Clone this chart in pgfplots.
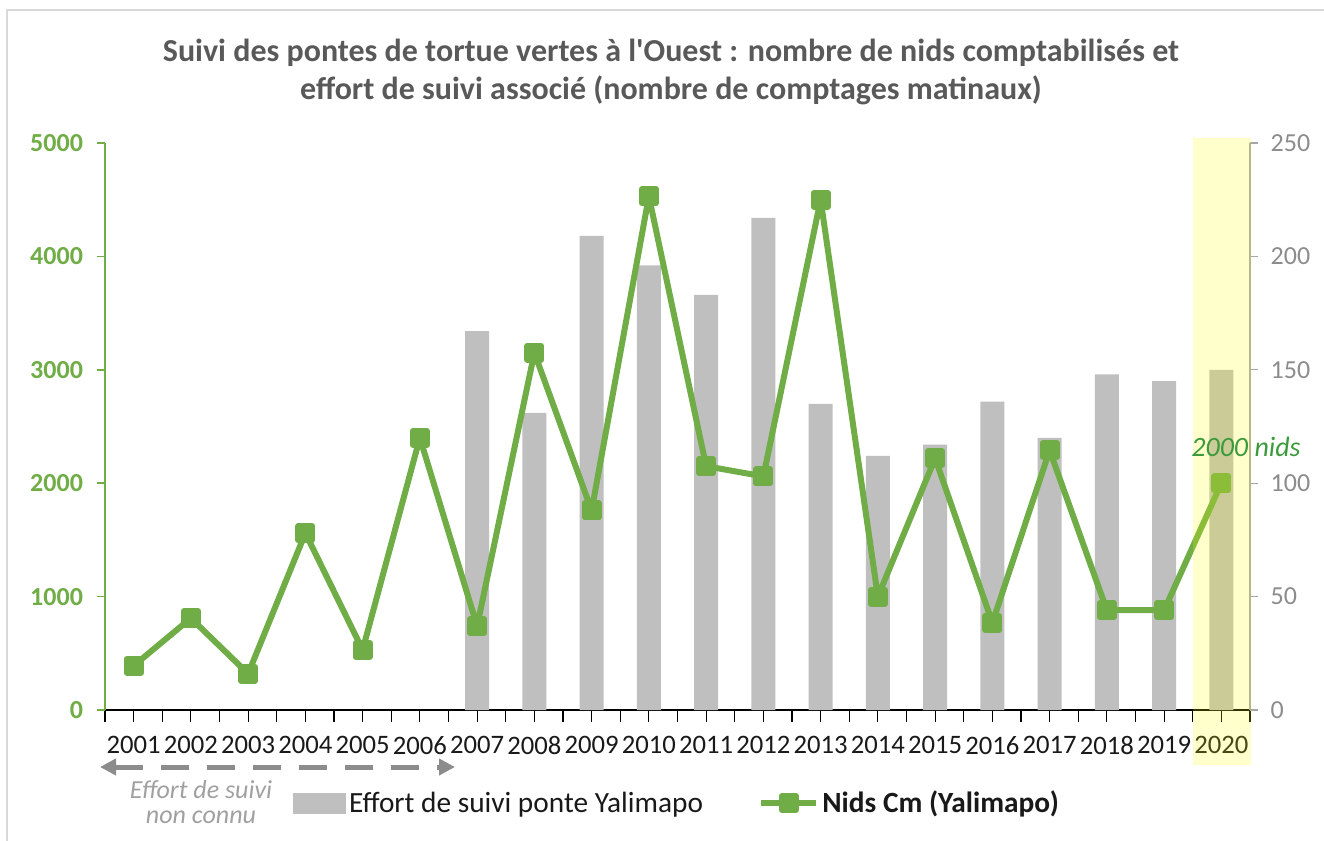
\documentclass[border=0pt]{standalone}
\usepackage{fontspec}
\setmainfont{Carlito}
\usepackage{pgfplots}
\pgfplotsset{compat=1.18}
\usetikzlibrary{arrows.meta}
\definecolor{lgreen}{HTML}{70AD47}
\definecolor{bargrey}{HTML}{BFBFBF}
\definecolor{axgrey}{HTML}{A6A6A6}
\definecolor{lblgrey}{HTML}{8C8C8C}
\definecolor{titlegrey}{HTML}{595959}
\definecolor{arrgrey}{HTML}{8C8C8C}
\definecolor{notegrey}{HTML}{A0A0A0}
\definecolor{dkgreen}{HTML}{3C9A3C}
\definecolor{hlyellow}{HTML}{FFFF00}
\definecolor{framegrey}{HTML}{D9D9D9}
\pgfplotsset{
 barleg/.style={legend image code/.code={\fill[bargrey] (0pt,-7.5pt) rectangle (39pt,7.5pt);}},
 lineleg/.style={legend image code/.code={\draw[lgreen, line width=4.5pt] (0pt,0pt) -- (41pt,0pt);
   \fill[lgreen] (15.3pt,-5.2pt) rectangle (25.7pt,5.2pt);}},
}
\begin{document}
\begin{tikzpicture}
\path[use as bounding box] (0,0) rectangle (993pt,630pt);
\draw[framegrey, line width=1.5pt] (5.25pt,-10pt) -- (5.25pt,622.5pt) -- (1000pt,622.5pt);
\node[align=center, text=titlegrey, font=\fontsize{24}{28.5}\selectfont\bfseries] at (503.25pt,576pt)
 {Suivi des pontes de tortue vertes à l\textquotesingle Ouest : nombre de nids comptabilisés et\\effort de suivi associé (nombre de comptages matinaux)};
% bars (right axis)
\begin{axis}[
 at={(78.75pt,97.5pt)}, anchor=south west,
 scale only axis, width=858.75pt, height=425.25pt,
 xmin=0.5, xmax=20.5, ymin=0, ymax=250,
 axis x line*=bottom, axis y line*=right,
 tick align=outside,
 major tick length=6pt,
 xtick={0.5,1.5,...,20.5}, xticklabels={},
 extra x ticks={1,2,...,20},
 extra x tick labels={2001,2002,2003,2004,2005,2006,2007,2008,2009,2010,2011,2012,2013,2014,2015,2016,2017,2018,2019,2020},
 extra x tick style={major tick length=0pt},
 x axis line style={black, line width=0.9pt, -},
 x tick style={black, line width=0.9pt, /pgfplots/major tick length=9pt},
 xticklabel style={font=\fontsize{20}{21}\selectfont, text=black!90, yshift=-16pt},
 ytick={0,50,...,250},
 y axis line style={axgrey, line width=0.9pt, -},
 y tick style={axgrey, line width=0.9pt},
 yticklabel style={font=\fontsize{19.5}{20}\selectfont, text=lblgrey, xshift=6pt},
 /pgf/number format/assume math mode=true,
]
\addplot[ybar, bar width=18pt, fill=bargrey, draw=none] coordinates {
 (7,167) (8,131) (9,209) (10,196) (11,183) (12,217) (13,135) (14,112)
 (15,117) (16,136) (17,120) (18,148) (19,145) (20,150)};
\end{axis}
% line (left axis)
\begin{axis}[
 at={(78.75pt,97.5pt)}, anchor=south west,
 scale only axis, width=858.75pt, height=425.25pt,
 xmin=0.5, xmax=20.5, ymin=0, ymax=5000,
 axis x line=none, axis y line*=left,
 tick align=outside, major tick length=6pt,
 ytick={0,1000,...,5000},
 y axis line style={lgreen, line width=1.2pt, -},
 y tick style={lgreen, line width=1.2pt},
 y tick label style={font=\fontsize{19.5}{20}\selectfont\bfseries, text=lgreen, xshift=-7pt},
 /pgf/number format/assume math mode=true,
 /pgf/number format/set thousands separator={},
 clip=false,
 legend columns=2,
 legend style={at={(0.1642,-0.164)}, anchor=west, draw=none, fill=none,
   inner sep=0pt, font=\fontsize{22}{23}\selectfont, text=black!90,
   /tikz/every even column/.append style={column sep=39pt},
   nodes={inner sep=2.5pt}},
 legend cell align=left,
]
\addlegendimage{barleg}
\addlegendentry{Effort de suivi ponte Yalimapo}
\addplot[lgreen, line width=4.5pt, line join=round,
  mark=square*, mark size=5.2pt, mark options={solid, draw=none, fill=lgreen}, lineleg]
 coordinates {(1,390) (2,810) (3,320) (4,1560) (5,530) (6,2400) (7,740) (8,3150)
 (9,1760) (10,4530) (11,2150) (12,2060) (13,4500) (14,1000) (15,2220) (16,770)
 (17,2290) (18,880) (19,880) (20,2000)};
\addlegendentry{\textbf{Nids Cm (Yalimapo)}}
\coordinate (hlA) at (axis cs:19.5,-485);
\coordinate (hlB) at (axis cs:20.52,5044);
\coordinate (noteA) at (axis cs:20.43,2319);
\end{axis}
\fill[hlyellow, fill opacity=0.2] (hlA) rectangle (hlB);
\node[font=\fontsize{21}{22}\selectfont\itshape, text=dkgreen] at (noteA) {2000 nids};
\draw[arrgrey, line width=3.75pt, dash pattern=on 21pt off 13.5pt,
  {Triangle[length=12pt,width=12pt]}-{Triangle[length=12pt,width=12pt]}]
  (75pt,54.75pt) -- (341.25pt,54.75pt);
\node[align=center, text=notegrey, font=\fontsize{19.5}{18.75}\selectfont\itshape] at (150.75pt,28.1pt)
 {Effort de suivi\\non connu};
\end{tikzpicture}
\end{document}
